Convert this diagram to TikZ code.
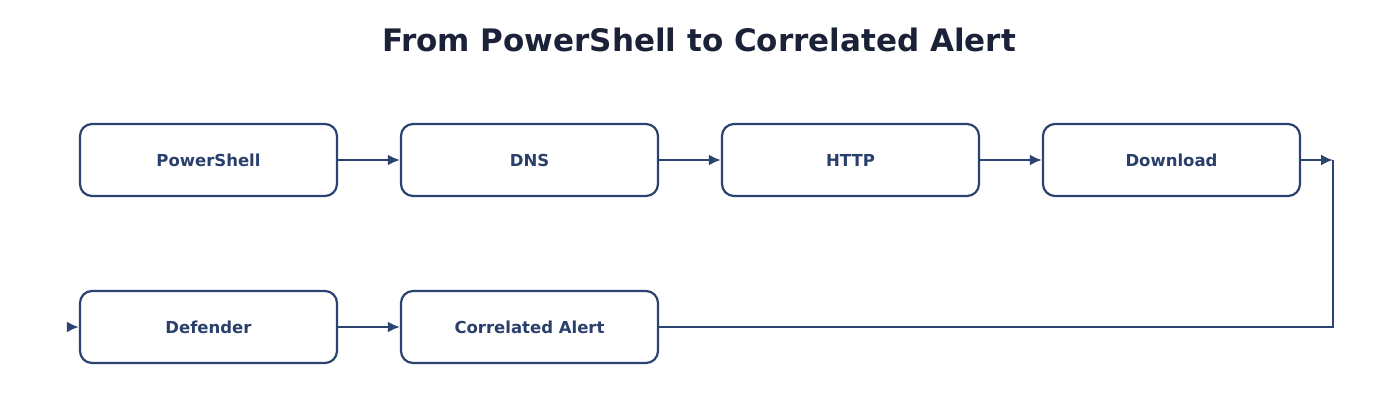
\documentclass[tikz,border=0pt]{standalone}
\usepackage{fontspec}
\setmainfont{DejaVu Sans}
\usetikzlibrary{arrows.meta}
\definecolor{titlec}{HTML}{1B2238}
\definecolor{linec}{HTML}{2B4370}
\definecolor{textc}{HTML}{2A3F6B}
\tikzset{
  box/.style={draw=linec, line width=2.2pt, rounded corners=12pt, minimum width=257pt, minimum height=72pt, inner sep=0pt, font=\fontsize{16.5}{18}\selectfont\bfseries, text=textc, fill=white},
  conn/.style={draw=linec, line width=2.6pt, -{Latex[length=12pt,width=11pt]}},
  plain/.style={draw=linec, line width=2.6pt}
}
\begin{document}
\begin{tikzpicture}[x=1pt,y=-1pt]
\useasboundingbox (0,0) rectangle (1400,420);
\node[font=\fontsize{31}{34}\selectfont\bfseries, text=titlec] (title) at (699,40) {From PowerShell to Correlated Alert};
\node[box] (ps) at (208.5,160) {PowerShell};
\node[box] (dns) at (529.5,160) {DNS};
\node[box] (http) at (850.5,160) {HTTP};
\node[box] (dl) at (1171.5,160) {Download};
\node[box] (def) at (208.5,327) {Defender};
\node[box] (ca) at (529.5,327) {Correlated Alert};
\coordinate (rt) at (1333,160);
\coordinate (rb) at (1333,327);
\coordinate (lin) at (69,327);
\draw[conn] (ps) -- (dns);
\draw[conn] (dns) -- (http);
\draw[conn] (http) -- (dl);
\draw[conn] (dl) -- (rt);
\draw[conn] (def) -- (ca);
\draw[plain] (ca.east) -- (rb) -- (rt);
\draw[conn] (lin) -- (def.west);
\end{tikzpicture}
\end{document}
